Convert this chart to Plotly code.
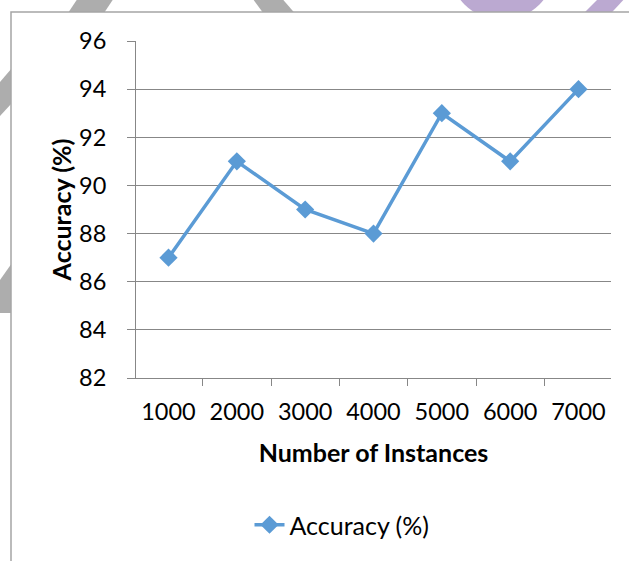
import plotly.graph_objects as go

# Accuracy for each training-set size
instances = ["1000", "2000", "3000", "4000", "5000", "6000", "7000"]
accuracy = [87, 91, 89, 88, 93, 91, 94]
y_ticks = [82, 84, 86, 88, 90, 92, 94, 96]

W, H = 629, 561
L, R, T, B = 136, 611, 41, 378  # plot-area edges in pixels

def px(x):
    return (x - L) / (R - L)

def py(y):
    return (B - y) / (B - T)

def poly(points):
    return "M " + " L ".join(f"{px(x):.4f},{py(y):.4f}" for x, y in points) + " Z"

GRAY_BAND = "#ADADAD"
LILAC = "#BBA9D1"
BLUE = "#5B9BD5"
GRID = "#878787"
FONT = "Lato"

shapes = []
# faint page decoration behind the chart box
for pts, col in [
    ([(80, -5), (116, -5), (96, 25), (60, 25)], GRAY_BAND),
    ([(250, -5), (279, -5), (305, 25), (272, 25)], GRAY_BAND),
    ([(0, 82), (12, 68), (12, 103), (0, 116)], GRAY_BAND),
    ([(0, 280), (12, 263), (12, 313), (0, 313)], GRAY_BAND),
    ([(602, -5), (628, -5), (600, 25), (572, 25)], LILAC),
]:
    shapes.append(dict(type="path", path=poly(pts), xref="paper", yref="paper",
                       fillcolor=col, line=dict(width=0), layer="below"))
shapes.append(dict(type="circle", xref="paper", yref="paper",
                   x0=px(502 - 53), x1=px(502 + 53), y0=py(-33 + 53), y1=py(-33 - 53),
                   fillcolor=LILAC, line=dict(width=0), layer="below"))
# chart box
shapes.append(dict(type="rect", xref="paper", yref="paper",
                   x0=px(11), x1=px(660), y0=py(12), y1=py(600),
                   fillcolor="white", line=dict(color="#A5A5A5", width=1.5), layer="below"))

fig = go.Figure()
fig.add_trace(go.Scatter(
    x=instances, y=accuracy, mode="lines+markers", name="Accuracy (%)",
    line=dict(color=BLUE, width=3.5),
    marker=dict(symbol="diamond", size=14, color=BLUE),
))

fig.update_layout(
    width=W, height=H,
    margin=dict(l=L, r=W - R, t=T, b=H - B),
    paper_bgcolor="white", plot_bgcolor="rgba(0,0,0,0)",
    font=dict(family=FONT, size=23, color="black"),
    shapes=shapes,
    showlegend=True,
    legend=dict(orientation="h", x=px(342), xanchor="center", y=py(525), yanchor="middle",
                font=dict(size=25), bgcolor="rgba(0,0,0,0)"),
    xaxis=dict(
        type="category", tickson="boundaries", ticks="outside", ticklen=7,
        tickcolor=GRID, showline=True, linecolor=GRID, linewidth=1,
        showgrid=False, ticklabelstandoff=13,
        tickfont=dict(size=23.5),
        title=dict(text="<b>Number of Instances</b>", font=dict(size=25), standoff=20),
    ),
    yaxis=dict(
        range=[82, 96], tickvals=y_ticks, ticks="outside", ticklen=8,
        tickcolor=GRID, showline=True, linecolor=GRID, linewidth=1,
        showgrid=True, gridcolor=GRID, gridwidth=1, zeroline=False,
        ticklabelstandoff=16, tickfont=dict(size=23.5),
        title=dict(text="<b>Accuracy (%)</b>", font=dict(size=25), standoff=0),
    ),
)

fig.write_html("out.html")
